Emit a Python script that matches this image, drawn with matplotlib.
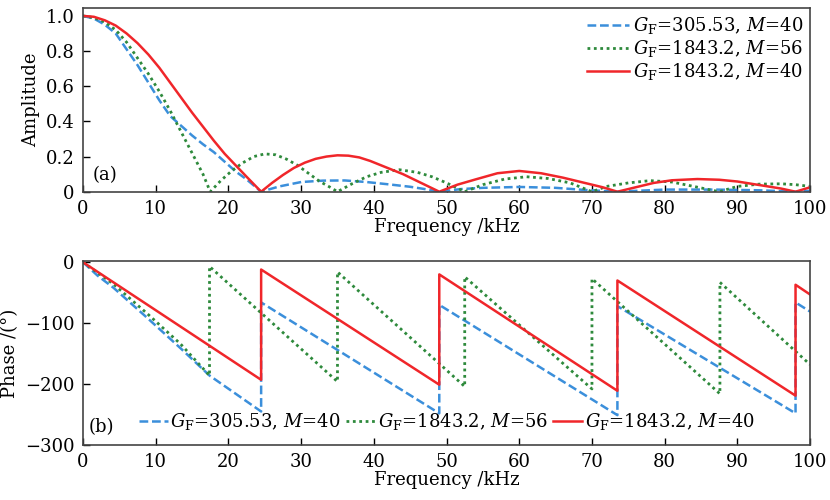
import matplotlib
matplotlib.use("Agg")
import matplotlib.pyplot as plt

plt.rcParams['font.family'] = ['DejaVu Serif']
plt.rcParams['mathtext.fontset'] = 'dejavuserif'
plt.rcParams['font.size'] = 13

# amplitude (a)
amp_x_blue = [0, 1.5, 3, 4.5, 6, 7.5, 9, 10.5, 12, 13.5, 15, 16.5, 18, 19.5, 21, 22.5, 24.5,
              27, 30, 33, 36, 39, 42, 45, 47, 49,
              52, 55, 60, 65, 69, 73.5, 80, 87, 93, 98, 100]
amp_y_blue = [1.0, 0.985, 0.95, 0.9, 0.81, 0.72, 0.62, 0.52, 0.43, 0.375, 0.32, 0.27, 0.225, 0.17, 0.115, 0.07, 0.0,
              0.03, 0.055, 0.063, 0.064, 0.055, 0.042, 0.028, 0.015, 0.0,
              0.015, 0.022, 0.027, 0.022, 0.01, 0.0, 0.012, 0.012, 0.008, 0.0, 0.005]

amp_x_green = [0, 1.5, 3, 4.5, 6, 7.5, 9, 10.5, 12, 13.5, 15, 16.5, 17.5,
               19, 20.5, 22, 23.5, 25, 26.5, 28, 29.5, 31, 32.5, 34, 35,
               37, 39, 41, 43.5, 46, 48, 50, 52.5, 55, 58, 61, 64, 67, 70,
               72, 75, 78, 81, 84, 87.5, 90, 93, 96, 98, 100]
amp_y_green = [1.0, 0.99, 0.965, 0.92, 0.85, 0.76, 0.67, 0.57, 0.46, 0.34, 0.22, 0.1, 0.0,
               0.065, 0.12, 0.165, 0.2, 0.215, 0.21, 0.185, 0.15, 0.105, 0.06, 0.025, 0.0,
               0.045, 0.085, 0.11, 0.125, 0.11, 0.085, 0.05, 0.0, 0.04, 0.072, 0.085, 0.075, 0.05, 0.0,
               0.03, 0.05, 0.063, 0.055, 0.03, 0.0, 0.03, 0.043, 0.045, 0.04, 0.03]

amp_x_red = [0, 1.5, 3, 4.5, 6, 7.5, 9, 10.5, 12, 13.5, 15, 16.5, 18, 19.5, 21, 22.5, 24.5,
             26, 27.5, 29, 30.5, 32, 33.5, 35, 36.5, 38, 39.5, 41, 42.5, 44, 45.5, 47, 49,
             51.5, 54, 57, 60, 63, 66, 69, 71.5, 73.5, 76, 78.5, 81, 84.5, 87.5, 90, 93, 96, 98, 100]
amp_y_red = [1.0, 0.995, 0.975, 0.945, 0.9, 0.845, 0.78, 0.705, 0.62, 0.535, 0.45, 0.37, 0.29, 0.215, 0.15, 0.085, 0.0,
             0.05, 0.095, 0.135, 0.165, 0.187, 0.2, 0.207, 0.205, 0.195, 0.175, 0.15, 0.125, 0.1, 0.07, 0.04, 0.0,
             0.04, 0.07, 0.105, 0.118, 0.105, 0.08, 0.05, 0.025, 0.0, 0.025, 0.05, 0.065,
             0.072, 0.068, 0.058, 0.038, 0.018, 0.0, 0.025]

# phase (b), sawtooth break points
ph_x_blue = [0, 2, 4.2, 8.8, 13.4, 17.4, 24.5, 24.5, 49, 49, 73.5, 73.5, 98, 98, 100]
ph_y_blue = [0, -22, -42, -91, -141, -186, -245, -66, -248, -70, -251, -72, -248, -66, -81]

ph_x_green = [0, 4.2, 8.8, 13.4, 17.4, 17.4, 35, 35, 52.5, 52.5, 70, 70, 87.6, 87.6, 100]
ph_y_green = [0, -36, -84, -134, -186, -7, -196, -16, -204, -24, -208, -27, -216, -33, -168]

ph_x_red = [0, 24.5, 24.5, 49, 49, 73.5, 73.5, 98, 98, 100]
ph_y_red = [0, -193, -12, -201, -20, -211, -30, -219, -37, -53]

labels = [r'$G_{\mathrm{F}}$=305.53, $M$=40',
          r'$G_{\mathrm{F}}$=1843.2, $M$=56',
          r'$G_{\mathrm{F}}$=1843.2, $M$=40']
c_blue = '#3b8fdb'
c_green = '#2e8a3c'
c_red = '#f0262a'
xticks = [0, 10, 20, 30, 40, 50, 60, 70, 80, 90, 100]

fig = plt.figure(figsize=(8.3, 5.0), dpi=100)
ax1 = fig.add_axes([0.1, 0.6166, 0.876, 0.3674])
ax2 = fig.add_axes([0.1, 0.11, 0.876, 0.368])

ax1.plot(amp_x_blue, amp_y_blue, color=c_blue, ls=(0, (3.5, 1.5)), lw=1.8, label=labels[0])
ax1.plot(amp_x_green, amp_y_green, color=c_green, ls=(0, (1, 1.3)), lw=2.0, label=labels[1])
ax1.plot(amp_x_red, amp_y_red, color=c_red, ls='-', lw=1.8, label=labels[2])

ax2.plot(ph_x_blue, ph_y_blue, color=c_blue, ls=(0, (3.5, 1.5)), lw=1.8, label=labels[0])
ax2.plot(ph_x_green, ph_y_green, color=c_green, ls=(0, (1, 1.3)), lw=2.0, label=labels[1])
ax2.plot(ph_x_red, ph_y_red, color=c_red, ls='-', lw=1.8, label=labels[2])

ax1.set_xlim(0, 100)
ax1.set_ylim(0, 1.045)
ax1.set_yticks([0, 0.2, 0.4, 0.6, 0.8, 1.0])
ax1.set_yticklabels(['0', '0.2', '0.4', '0.6', '0.8', '1.0'])
ax1.set_ylabel('Amplitude')
ax1.text(0.013, 0.04, '(a)', transform=ax1.transAxes, ha='left', va='bottom')
ax1.legend(loc='upper right', frameon=False, handlelength=2.3, handletextpad=0.2,
           labelspacing=0.1, borderaxespad=0.2, borderpad=0.2)

ax2.set_xlim(0, 100)
ax2.set_ylim(-300, 2)
ax2.set_yticks([0, -100, -200, -300])
ax2.set_ylabel('Phase /(°)')
ax2.text(0.008, 0.05, '(b)', transform=ax2.transAxes, ha='left', va='bottom')
ax2.legend(loc='lower center', ncol=3, frameon=False, handlelength=1.6, handletextpad=0.15,
           columnspacing=0.3, borderaxespad=0.3, bbox_to_anchor=(0.5, 0))

for ax in [ax1, ax2]:
    ax.set_xticks(xticks)
    ax.set_xlabel('Frequency /kHz', labelpad=0)
    ax.tick_params(direction='in', length=5, width=1, top=False, right=False, pad=6)
    for s in ax.spines.values():
        s.set_color('#444444')
        s.set_linewidth(1.2)

plt.savefig('out.png', dpi=100)
